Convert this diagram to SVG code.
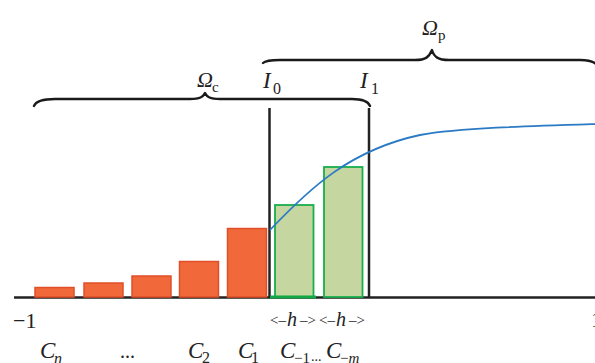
<svg xmlns="http://www.w3.org/2000/svg" width="595" height="363" viewBox="0 0 595 363">
<style>
.t{font-family:"Liberation Serif","Times New Roman",serif;fill:#222}
.i{font-style:italic}
.brace{fill:none;stroke:#1a1a1a;stroke-width:2.4;stroke-linecap:round;stroke-linejoin:round}
.orange{fill:#F1683A;stroke:#DF4F28;stroke-width:1.5}
.green{fill:#C5D6A0;stroke:#17AE4C;stroke-width:1.8}
.vline{stroke:#222;stroke-width:2.5}
</style>
<rect width="595" height="363" fill="#fff"/>
<g id="braces">
<path class="brace" d="M34,106 C36,101 42,99 55,99 L190,99 C200,99 203,97 205,93 C207,97 210,99 220,99 L352,99 C362,99 368,101 370,106"/>
<path class="brace" d="M263,63 C265,61 270,60 280,60 L415,60 C426,60 429,57 432,50 C434,57 438,60 449,60 L580,60 C588,60 593,61 596,64"/>
</g>
<g id="axis">
<line x1="14" y1="297.5" x2="595" y2="297.5" stroke="#222" stroke-width="2.6"/>
<line class="vline" x1="269.5" y1="108" x2="269.5" y2="298"/>
<line class="vline" x1="369" y1="108" x2="369" y2="298"/>
</g>
<g id="bars-c">
<rect class="orange" x="35" y="287.5" width="39" height="9.5"/>
<rect class="orange" x="84" y="283" width="39" height="14"/>
<rect class="orange" x="132" y="276" width="39" height="21"/>
<rect class="orange" x="179.5" y="261.5" width="39" height="35.5"/>
<rect class="orange" x="227.5" y="228.5" width="39" height="68.5"/>
</g>
<g id="bars-p">
<rect class="green" x="275" y="205" width="38.5" height="92"/>
<rect class="green" x="324" y="167" width="38.5" height="130"/>
<line x1="270" y1="297" x2="316" y2="297" stroke="#12A845" stroke-width="3"/>
</g>
<g id="curve">
<path d="M270,230 C310,188 350,150 420,135 C460,128 530,126 596,124" fill="none" stroke="#2A7BC4" stroke-width="1.8"/>
</g>
<g id="labels-top">
<text class="t i" x="197" y="87" font-size="22">Ω</text><text class="t" x="212" y="92" font-size="15">c</text>
<text class="t i" x="263" y="88" font-size="23">I</text><text class="t" x="273" y="94" font-size="16">0</text>
<text class="t i" x="360" y="88" font-size="23">I</text><text class="t" x="371" y="94" font-size="16">1</text>
<text class="t i" x="422" y="35" font-size="22">Ω</text><text class="t" x="438" y="40" font-size="15">p</text>
</g>
<g id="labels-bottom">
<text class="t" x="13" y="328" font-size="22">−1</text>
<text class="t" x="591" y="327" font-size="22">1</text>
<text class="t" x="270" y="325" font-size="15">&lt;–</text><text class="t i" x="287" y="326" font-size="20">h</text><text class="t" x="300" y="325" font-size="15">–&gt;</text>
<text class="t" x="319" y="325" font-size="15">&lt;–</text><text class="t i" x="336" y="326" font-size="20">h</text><text class="t" x="349" y="325" font-size="15">–&gt;</text>
<text class="t i" x="40" y="358" font-size="23">C</text><text class="t i" x="54" y="364" font-size="16">n</text>
<text class="t" x="120" y="358" font-size="20">...</text>
<text class="t i" x="188" y="358" font-size="23">C</text><text class="t" x="202" y="363" font-size="16">2</text>
<text class="t i" x="238" y="358" font-size="23">C</text><text class="t" x="251" y="363" font-size="16">1</text>
<text class="t i" x="280" y="358" font-size="23">C</text><text class="t" x="294" y="363" font-size="15">−1</text>
<text class="t" x="311" y="361" font-size="14">...</text>
<text class="t i" x="326" y="358" font-size="23">C</text><text class="t" x="340" y="363" font-size="15">−<tspan class="i">m</tspan></text>
</g>
</svg>
